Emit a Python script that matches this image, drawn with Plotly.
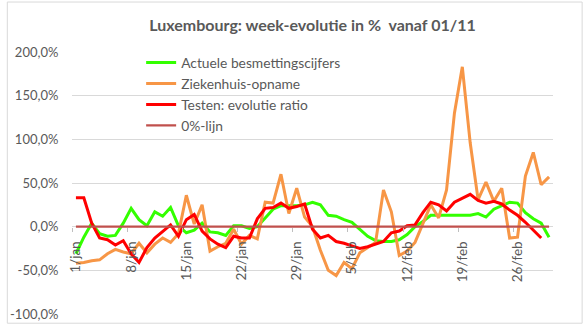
import plotly.graph_objects as go

# categories: daily, 1/jan .. 2/mrt (61 days)
months = ["jan"] * 31 + ["feb"] * 28 + ["mrt"] * 2
days = list(range(1, 32)) + list(range(1, 29)) + [1, 2]
categories = [f"{d}/{m}" for d, m in zip(days, months)]

tick_labels = ["1/jan", "8/jan", "15/jan", "22/jan", "29/jan", "5/feb", "12/feb", "19/feb", "26/feb"]

besmetting = [-31, -12, 4, -8, -11, -10, 4, 21, 8, 1, 17, 12, 22, 1, -7, -4, 4, -6, -7, -10,
              1, 1, -2, 0, 10, 20, 24, 24, 24, 25, 28, 25, 13, 12, 8, 5, -3, -11, -16, -17,
              -17, -15, -9, 0, 6, 13, 13, 13, 13, 13, 13, 15, 11, 20, 24, 28, 27, 16, 9, 4, -12]

ziekenhuis = [-42, -41, -39, -38, -31, -26, -29, -31, -19, -30, -20, -13, -18, -8, 36, 3, 25, -28, -23, -19,
              -3, -20, -10, -14, 28, 27, 60, 15, 44, 11, 0, -27, -50, -56, -41, -48, -30, -24, -18, 42,
              17, -33, -28, -18, 3, 25, 10, 42, 130, 183, 96, 31, 51, 29, 44, -13, -12, 58, 85, 48, 57]

testen = [33, 33, 4, -13, -15, -21, -16, -31, -41, -24, -13, -5, 2, -11, 8, 14, -5, -14, -20, -24,
          -11, -13, -13, 9, 21, 22, 27, 21, 23, 26, -3, -13, -10, -17, -19, -22, -25, -23, -20, -17,
          -7, -5, 1, 2, 16, 28, 25, 18, 28, 33, 37, 30, 27, 29, 26, 19, 13, 5, -4, -13, None]

nul_lijn = [0] * len(categories)

y_ticks = [-100, -50, 0, 50, 100, 150, 200]
y_tick_text = ["-100,0%", "-50,0%", "0,0%", "50,0%", "100,0%", "150,0%", "200,0%"]

FONT = "Lato"
GREY = "#595959"

idx = list(range(len(categories)))
tick_pos = [categories.index(t) for t in tick_labels]
boundary_pos = [p - 0.5 for p in tick_pos]

fig = go.Figure()
series = [
    ("Actuele besmettingscijfers", besmetting, "#33FF00", 3),
    ("Ziekenhuis-opname", ziekenhuis, "#F79646", 3),
    ("Testen: evolutie ratio", testen, "#FF0000", 3),
    ("0%-lijn", nul_lijn, "#C0504D", 2.25),
]
for i, (name, vals, col, w) in enumerate(series):
    fig.add_trace(go.Scatter(x=idx, y=vals, mode="lines", name=name, legendgroup=f"g{i}",
                             line=dict(color=col, width=w), hoverinfo="skip"))

W, H = 583, 332
ml, mr, mt, mb = 66, 30, 52, 10
pw, ph = W - ml - mr, H - mt - mb

fig.update_layout(
    width=W, height=H,
    margin=dict(l=ml, r=mr, t=mt, b=mb),
    paper_bgcolor="white", plot_bgcolor="white",
    font=dict(family=FONT, size=12, color=GREY),
    title=dict(text="<b>Luxembourg: week-evolutie in %\u00a0 vanaf 01/11</b>",
               x=0.5, xref="paper", xanchor="center", y=1 - 25.5 / H, yanchor="middle",
               font=dict(family=FONT, size=16, color=GREY)),
    showlegend=True,
    legend=dict(x=(136 - ml) / pw, y=1 - (47 - mt) / ph, xanchor="left", yanchor="top",
                bgcolor="rgba(0,0,0,0)", font=dict(family=FONT, size=13.8, color=GREY),
                tracegroupgap=0, itemwidth=30),
    xaxis=dict(range=[-0.5, len(categories) - 0.5], tickvals=tick_pos, ticktext=tick_labels,
               tickangle=-90, showgrid=False, zeroline=False, showline=False, ticks="",
               anchor="free", position=1 / 3, ticklabelstandoff=11,
               tickfont=dict(family=FONT, size=13.5, color=GREY)),
    xaxis2=dict(range=[-0.5, len(categories) - 0.5], tickvals=boundary_pos, showticklabels=False,
                showgrid=False, zeroline=False, showline=False, ticks="outside", ticklen=4,
                tickcolor="#BFBFBF", overlaying="x", anchor="free", position=1 / 3),
    yaxis=dict(range=[-100, 200], tickvals=y_ticks, ticktext=y_tick_text, showgrid=True,
               gridcolor="#D9D9D9", gridwidth=1, zeroline=False, showline=False,
               ticks="outside", ticklen=10, tickcolor="rgba(0,0,0,0)", domain=[0, 1],
               tickfont=dict(family=FONT, size=13, color=GREY)),
    shapes=[dict(type="rect", xref="paper", yref="paper",
                 x0=(-ml + 0.5) / pw, x1=1 + (mr - 0.5) / pw,
                 y0=(-mb + 0.5) / ph, y1=1 + (mt - 0.5) / ph,
                 line=dict(color="#D9D9D9", width=1), layer="below")],
)
# dummy trace so xaxis2 is rendered
fig.add_trace(go.Scatter(x=[0], y=[0], xaxis="x2", mode="markers", marker=dict(opacity=0),
                         showlegend=False, hoverinfo="skip"))

fig.write_html("out.html")
